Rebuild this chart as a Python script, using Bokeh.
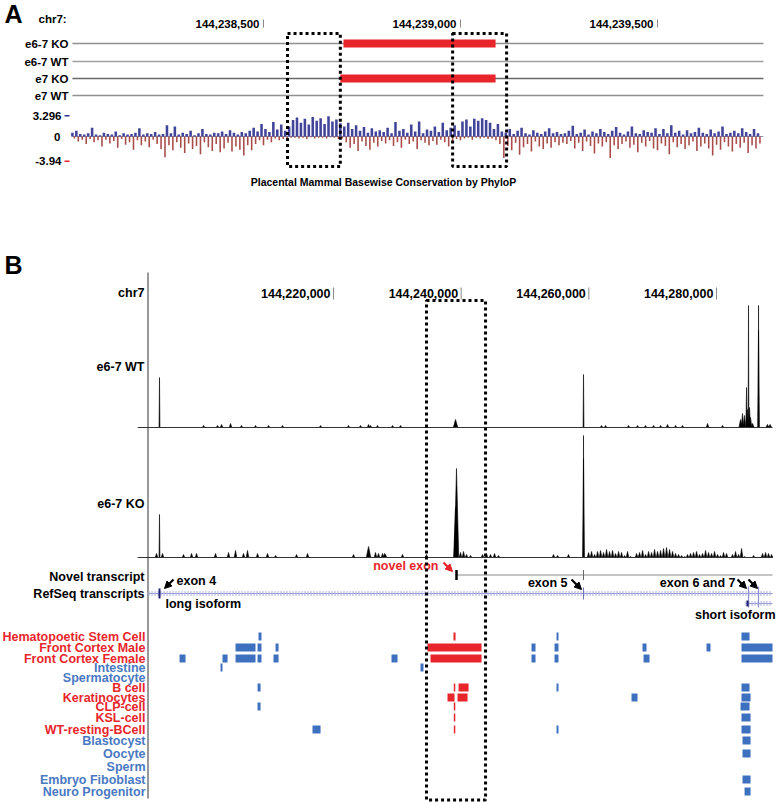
import numpy as np
from bokeh.plotting import figure
from bokeh.models import Range1d, Arrow, NormalHead
from bokeh.core.properties import value
from bokeh.embed import file_html
from bokeh.resources import INLINE

# ------------------------------------------------------------------ data
# Panel A (zoomed region, bp)
a_ticks = [144238500, 144239000, 144239500]
a_tick_labels = ["144,238,500", "144,239,000", "144,239,500"]
a_tracks = ["e6-7 KO", "e6-7 WT", "e7 KO", "e7 WT"]
a_del_tracks = ["e6-7 KO", "e7 KO"]
a_del_start = [144238703, 144238695]
a_del_end = [144239089, 144239089]
a_view = [144238015, 144239769]
a_box_start = [144238561, 144238980]
a_box_end = [144238695, 144239117]
phylo_max, phylo_min = 3.296, -3.94
cons_start = 144238015
cons_step = 10
cons_pos = [0.6, 0.9, 0.4, 0.3, 0.5, 1.4, 0.3, 0.2, 0.6, 0.4, 0.3, 0.8, 0.2, 0.5, 0.3, 0.4, 0.6, 1.3, 0.3, 0.5, 0.4, 0.7, 0.3,
            0.4, 1.8, 0.5, 1.6, 0.3, 0.6, 0.4, 0.9, 0.2, 0.5, 1.2, 0.4, 0.3, 0.6, 0.5, 0.8, 0.4, 1.0, 0.6, 0.3, 0.7, 0.5, 0.9,
            1.4, 0.8, 2.0, 1.2, 0.7, 2.3, 1.1, 1.9, 0.9, 1.6,
            2.6, 3.0, 2.2, 2.8, 1.9, 3.1, 2.5, 2.9, 2.0, 3.2, 2.4, 2.7, 2.1,
            1.6, 2.2, 1.2, 1.8, 0.9, 1.5, 0.6, 1.3, 0.8, 1.0,
            0.7, 1.4, 0.5, 2.3, 0.9, 1.2, 0.6, 1.9, 0.8, 2.4, 0.5, 1.1, 0.9, 1.6, 0.7, 2.2, 1.0, 1.4,
            1.8, 0.9, 2.4, 2.7, 1.6, 2.8, 2.5, 2.9, 2.6, 2.2, 1.2, 2.0, 0.8,
            0.6, 1.2, 0.4, 0.9, 1.4, 0.5, 0.3, 1.0, 0.6, 0.4, 0.8, 1.3, 0.5, 0.7, 0.4,
            0.5, 0.9, 1.7, 0.4, 0.6, 1.1, 0.3, 0.8, 0.5, 1.2, 0.7, 0.4, 0.9, 1.5, 0.6, 0.3, 0.8, 1.6, 0.5, 0.4,
            1.0, 0.7, 0.6, 1.3, 0.4, 1.2, 0.5, 1.8, 0.6, 0.9, 0.3, 1.0, 0.5, 0.7, 1.4, 0.6, 0.4, 1.1, 0.5, 0.8,
            1.6, 0.4, 0.6, 0.9, 0.5, 1.3, 0.7, 0.4, 1.2, 0.5]
cons_neg = [0.3, 0.8, 0.5, 1.2, 0.4, 0.9, 0.6, 1.6, 0.5, 1.1, 0.7, 1.8, 0.4, 1.3, 0.9, 2.1, 0.6, 1.4, 0.8, 1.7, 0.5, 1.2, 2.0,
            3.3, 1.4, 2.2, 0.9, 1.8, 2.6, 1.1, 2.0, 1.5, 2.8, 0.9, 1.7, 2.3, 1.2, 2.5, 1.9, 1.0, 2.4, 1.6, 2.1, 3.0, 1.4, 2.2,
            1.2, 0.6, 1.4, 0.5, 0.9, 0.3, 0.6, 0.4, 0.3, 0.2,
            0.2, 0.3, 0.2, 0.4, 0.1, 0.3, 0.2, 0.2, 0.3, 0.1, 0.2, 0.4, 0.3,
            0.9, 1.8, 1.2, 2.3, 0.8, 1.5, 2.1, 1.0, 1.6, 0.7,
            1.1, 0.6, 1.5, 0.9, 1.8, 0.5, 1.2, 0.8, 2.0, 0.6, 1.0, 1.4, 0.7, 1.3, 0.5, 0.9, 1.6, 0.8,
            0.4, 0.6, 0.3, 0.2, 0.5, 0.2, 0.3, 0.2, 0.4, 0.3, 0.6, 1.2, 3.4,
            1.5, 2.2, 1.0, 2.9, 1.7, 1.2, 2.4, 0.8, 1.6, 2.0, 1.1, 1.8, 0.9, 1.4, 1.0,
            1.2, 0.7, 1.9, 1.0, 2.3, 0.8, 1.5, 2.7, 1.1, 1.6, 0.9, 3.4, 1.4, 2.0, 1.2, 0.8, 1.8, 1.3, 2.5, 1.0,
            1.6, 0.7, 1.9, 2.2, 1.1, 1.5, 2.8, 0.9, 1.7, 1.2, 2.0, 1.4, 0.8, 2.3, 1.6, 1.1, 1.9, 3.0, 1.3, 2.1,
            0.9, 1.6, 2.4, 1.2, 1.8, 1.0, 2.6, 1.4, 1.9, 1.1]

# Panel B (wide region, kb)
b_ticks = [144220000, 144240000, 144260000, 144280000]
b_tick_labels = ["144,220,000", "144,240,000", "144,260,000", "144,280,000"]
b_view = [144191.02, 144288.78]
b_box = [144234.57, 144243.82]

wt_kb = [144192.74, 144199.64, 144201.83, 144202.46, 144203.87, 144205.59, 144207.78, 144209.82, 144212.01,
         144217.97, 144222.35, 144224.23, 144225.49, 144225.80, 144226.90, 144229.25, 144230.50,
         144239.12, 144259.17,
         144261.99, 144262.62, 144266.22, 144267.63, 144268.88, 144270.14, 144271.24, 144272.33, 144273.59,
         144274.68, 144278.60, 144280.95,
         144283.77, 144284.08, 144284.40, 144284.71, 144284.87, 144285.02, 144285.18, 144285.34, 144285.65,
         144286.59, 144286.59, 144287.99, 144288.40]
wt_h = [50, 2, 2, 3, 4, 2, 2, 2, 2, 2, 2, 2, 3, 2, 2, 2, 2,
        8, 53,
        2, 2, 2, 2, 2, 2, 2, 3, 2, 2, 4, 2,
        8, 14, 12, 40, 18, 122, 20, 10, 4,
        122, 97, 3, 3]
wt_w = [0.07] + [0.2] * 16 + [0.35, 0.07] + [0.2] * 12 + \
       [0.25, 0.2, 0.2, 0.1, 0.15, 0.06, 0.15, 0.2, 0.25] + [0.05, 0.13] + [0.25, 0.25]

ko_kb = [144192.27, 144192.74, 144193.21,
         144196.50, 144197.76, 144198.54, 144201.52, 144203.55, 144204.65, 144205.90, 144206.53, 144208.10,
         144209.66, 144210.92, 144214.21, 144215.93,
         144223.14, 144225.49, 144226.58, 144227.05, 144227.68, 144227.99, 144228.15, 144230.81, 144234.57,
         144239.12, 144239.27, 144239.90, 144240.37, 144240.84, 144241.47,
         144243.35, 144243.97, 144244.60, 144245.23, 144245.85,
         144254.47, 144255.10, 144256.82,
         144259.17, 144259.17]
ko_h = [4, 43, 4,
        3, 4, 4, 4, 5, 7, 4, 7, 4, 4, 2, 3, 4,
        3, 11, 5, 4, 4, 4, 3, 3, 3,
        50, 89, 5, 6, 3, 2,
        3, 4, 3, 4, 2,
        3, 2, 3,
        122, 99]
ko_w = [0.2, 0.07, 0.2] + [0.2] * 13 + [0.2, 0.35, 0.2, 0.2, 0.2, 0.2, 0.2, 0.2, 0.2] + \
       [0.3, 0.35, 0.2, 0.2, 0.2, 0.2] + [0.2] * 5 + [0.2] * 3 + [0.05, 0.14]
ko_dense_start = 144259.96
ko_dense_step = 0.47
ko_dense = [5, 6, 3, 6, 7, 5, 8, 6, 7, 4, 6, 5, 2, 6, 1, 0, 4, 5, 7, 3,
            6, 5, 8, 6, 7, 9, 10, 8, 6, 4, 3, 2, 1, 3, 4, 5, 6, 3, 4, 7,
            5, 4, 6, 3, 2, 5, 4, 0, 3, 6, 3, 9, 1, 0, 0, 2, 0, 0, 4, 5, 4, 3]

novel_tx = [144239.20, 144288.78]
novel_exons = [144239.27, 144259.17]
refseq_long = [144191.02, 144288.78]
refseq_long_exons = [144192.74, 144259.17, 144285.02, 144286.59]
refseq_short = [144284.55, 144288.78]
refseq_short_exon = [144284.71, 144285.02]

cell_lines = ["Hematopoetic Stem Cell", "Front Cortex Male", "Front Cortex Female", "Intestine", "Spermatocyte",
              "B cell", "Keratinocytes", "CLP-cell", "KSL-cell", "WT-resting-BCell", "Blastocyst", "Oocyte",
              "Sperm", "Embryo Fiboblast", "Neuro Progenitor"]
cell_hilite = [True, True, True, False, False, True, True, True, True, True, False, False, False, False, False]
cell_bars = {
    0: [(144208.25, 144208.72), (144238.80, 144239.12), (144254.94, 144255.25), (144283.92, 144285.18)],
    1: [(144204.65, 144207.78), (144208.10, 144208.72), (144210.92, 144211.39), (144234.73, 144243.19),
        (144251.02, 144251.65), (144254.63, 144255.25), (144268.41, 144269.04), (144278.44, 144279.07),
        (144283.92, 144288.78)],
    2: [(144195.88, 144196.82), (144202.61, 144203.40), (144204.65, 144207.78), (144208.10, 144208.72),
        (144210.60, 144211.39), (144229.09, 144230.03), (144235.20, 144243.19), (144251.02, 144251.65),
        (144254.63, 144255.25), (144268.57, 144269.51), (144283.92, 144288.78)],
    3: [(144202.30, 144202.61), (144233.63, 144234.10)],
    5: [(144208.10, 144208.57), (144238.85, 144239.08), (144239.59, 144241.16), (144254.94, 144255.25),
        (144283.92, 144285.18)],
    6: [(144237.86, 144238.96), (144239.43, 144241.00), (144266.69, 144267.63), (144283.92, 144285.34)],
    7: [(144208.10, 144208.57), (144238.85, 144239.08), (144283.77, 144285.18)],
    8: [(144238.85, 144239.08), (144283.92, 144285.34)],
    9: [(144216.71, 144217.97), (144238.85, 144239.08), (144254.94, 144255.25), (144283.92, 144285.34)],
    10: [(144284.08, 144285.34)],
    11: [(144284.08, 144285.34)],
    13: [(144284.08, 144285.34)],
    14: [(144284.40, 144285.34)],
}

# ------------------------------------------------------------------ layout helpers
W, H = 776, 802
FONT = value("Liberation Sans")
RED = "#e8252b"
BLUE = "#3d70bf"
LBLUE = "#4a78c2"


def Y(v):
    return np.asarray(v, dtype=float)


def X(v):
    return np.asarray(v, dtype=float)


PXA = 0.394          # px per bp, panel A
PXB = 1 / 156.67     # px per bp, panel B
A0 = a_ticks[0] - 263 / PXA
A1 = A0 + W / PXA
B0 = b_ticks[0] - 333 / PXB
B1 = B0 + W / PXB

p = figure(width=W, height=H, x_range=Range1d(B0, B1), y_range=Range1d(H, 0),
           output_backend="svg", toolbar_location=None, x_axis_type=None, y_axis_type=None,
           min_border=0, outline_line_color=None, background_fill_color="white")
p.extra_x_ranges = {"A": Range1d(A0, A1), "px": Range1d(0, W)}
PA = dict(x_range_name="A")
PX = dict(x_range_name="px")


def txt(x, y, t, size="12.5px", align="right", color="black", rng=PX, xoff=0):
    p.text(x=list(np.atleast_1d(x)), y=list(np.atleast_1d(y)), text=list(np.atleast_1d(t)),
           text_font=FONT, text_font_style="bold", text_font_size=size, text_align=align,
           text_baseline="middle", text_color=color, x_offset=xoff, **rng)


# ================================================================== Panel A
txt(X(4), Y(13.5), "A", size="25px", align="left")
txt(X(38), Y(18), "chr7:", size="11.5px", align="left")
txt(a_ticks, [Y(23)] * 3, a_tick_labels, size="11.5px", rng=PA, xoff=-4)
p.segment(x0=a_ticks, x1=a_ticks, y0=[Y(19)] * 3, y1=[Y(27)] * 3, line_color="#888888", line_width=1, **PA)

rowA = {"e6-7 KO": 43, "e6-7 WT": 61, "e7 KO": 78, "e7 WT": 95}
lcols = ["#909090", "#a0a0a0", "#6a6a6a", "#909090"]
for name, col in zip(a_tracks, lcols):
    p.segment(x0=[a_view[0]], x1=[a_view[1]], y0=[Y(rowA[name])], y1=[Y(rowA[name])],
              line_color=col, line_width=1.3, **PA)
txt([X(68)] * 4, [Y(rowA[n]) for n in a_tracks], a_tracks, size="11.5px")
p.quad(left=a_del_start, right=a_del_end,
       top=[Y(rowA[t]) - 4 for t in a_del_tracks], bottom=[Y(rowA[t]) + 4 for t in a_del_tracks],
       fill_color=RED, line_color=None, **PA)

zero = float(Y(136))
sc = 6.3
pos_x = cons_start + cons_step * np.arange(len(cons_pos))
neg_x = cons_start + cons_step * np.arange(len(cons_neg)) + cons_step / 2
p.segment(x0=[a_view[0]], x1=[a_view[1]], y0=[zero], y1=[zero], line_color="#9a9aa8", line_width=1, **PA)
p.vbar(x=pos_x, width=6.5, top=zero - sc * np.array(cons_pos), bottom=zero,
       fill_color="#2e308f", line_color=None, fill_alpha=0.9, **PA)
p.vbar(x=neg_x, width=4, top=zero, bottom=zero + sc * np.array(cons_neg),
       fill_color="#9a2b2b", line_color=None, fill_alpha=0.85, **PA)
ytop = zero - sc * phylo_max
ybot = zero - sc * phylo_min
txt([X(61), X(60), X(61)], [ytop, zero, ybot], [f"{phylo_max:g}", "0", f"{phylo_min:g}"], size="11.5px")
p.segment(x0=[X(64), X(64)], x1=[X(69), X(69)], y0=[ytop, ybot], y1=[ytop, ybot],
          line_color=["#2e308f", RED], line_width=1.5, **PX)
txt(X(383), Y(181), "Placental Mammal Basewise Conservation by PhyloP", size="10.5px", align="center")

p.quad(left=a_box_start, right=a_box_end, top=[Y(33)] * 2, bottom=[Y(166)] * 2,
       fill_color=None, line_color="black", line_width=3, line_dash="3 3", **PA)

# ================================================================== Panel B
txt(X(4), Y(264), "B", size="25px", align="left")
p.segment(x0=[X(147.5)], x1=[X(147.5)], y0=[Y(272)], y1=[Y(798)], line_color="#555555", line_width=1.2, **PX)
txt(X(144), Y(292), "chr7")
txt(b_ticks, [Y(293)] * 4, b_tick_labels, rng={}, xoff=-3)
p.segment(x0=b_ticks, x1=b_ticks, y0=[Y(287)] * 4, y1=[Y(299)] * 4, line_color="#888888", line_width=1)

base_wt = float(Y(427))
base_ko = float(Y(557))


def peaks(kb, h, w, base):
    xs = [[(k - ww) * 1000, k * 1000, (k + ww) * 1000] for k, ww in zip(kb, w)]
    ys = [[base, base - hh, base] for hh in h]
    p.patches(xs=xs, ys=ys, fill_color="black", line_color="black", line_width=0.6)


peaks(wt_kb, wt_h, wt_w, base_wt)
peaks(ko_kb, ko_h, ko_w, base_ko)
dense_kb = ko_dense_start + ko_dense_step * np.arange(len(ko_dense))
keep = np.array(ko_dense) > 0
peaks(dense_kb[keep], np.array(ko_dense)[keep], [0.2] * int(keep.sum()), base_ko)

for b in (base_wt, base_ko):
    p.segment(x0=[b_view[0] * 1000 - 1700], x1=[b_view[1] * 1000], y0=[b], y1=[b],
              line_color="#333333", line_width=1.2)
txt(X(144), Y(366), "e6-7 WT")
txt(X(144), Y(503), "e6-7 KO")

# transcripts
yN = float(Y(574.5))
yR = float(Y(593))
yS = float(Y(603))
txt(X(144), Y(576), "Novel transcript")
txt(X(144), Y(593), "RefSeq transcripts")
p.segment(x0=[novel_tx[0] * 1000], x1=[novel_tx[1] * 1000], y0=[yN], y1=[yN], line_color="#8a8a8a", line_width=1.2)
p.segment(x0=[novel_exons[0] * 1000], x1=[novel_exons[0] * 1000], y0=[yN - 5], y1=[yN + 5],
          line_color="black", line_width=2.5)
p.segment(x0=[novel_exons[1] * 1000], x1=[novel_exons[1] * 1000], y0=[yN - 5], y1=[yN + 5],
          line_color="#666666", line_width=1)

for (s, e), yy in ((refseq_long, yR), (refseq_short, yS)):
    p.segment(x0=[s * 1000], x1=[e * 1000], y0=[yy], y1=[yy], line_color="#9095d2", line_width=1)
    p.segment(x0=[s * 1000], x1=[e * 1000], y0=[yy], y1=[yy], line_color="#aeb1e0", line_width=5, line_dash="1 2")
p.segment(x0=[refseq_long_exons[0] * 1000], x1=[refseq_long_exons[0] * 1000], y0=[yR - 5], y1=[yR + 5],
          line_color="#1e2070", line_width=2)
p.segment(x0=[refseq_long_exons[1] * 1000], x1=[refseq_long_exons[1] * 1000], y0=[yR - 6], y1=[yR + 6],
          line_color="#6d72b8", line_width=1)
p.segment(x0=[e * 1000 for e in refseq_long_exons[2:]], x1=[e * 1000 for e in refseq_long_exons[2:]],
          y0=[yR - 7] * 2, y1=[yS + 4] * 2, line_color="#8f94d0", line_width=1.2)
p.quad(left=[refseq_short_exon[0] * 1000], right=[refseq_short_exon[1] * 1000], top=[yS - 3], bottom=[yS + 3],
       fill_color="#1e2070", line_color=None)

txt(X(438), Y(565), "novel exon", color=RED)
txt(X(176), Y(580), "exon 4", align="left")
txt(X(165), Y(603), "long isoform", align="left")
txt(X(567), Y(582), "exon 5")
txt(X(735), Y(582), "exon 6 and 7")
txt(X(775), Y(614), "short isoform")

arrows = [((173, 579), (164, 588), "black"), ((443, 562), (452, 571), RED), ((571, 579), (581, 589), "black"),
          ((737, 579), (746, 588), "black"), ((748, 579), (757, 588), "black")]
for (xs_, ys_), (xe, ye), col in arrows:
    p.add_layout(Arrow(end=NormalHead(size=7, fill_color=col, line_color=col), x_start=float(X(xs_)),
                       y_start=float(Y(ys_)), x_end=float(X(xe)), y_end=float(Y(ye)),
                       line_color=col, line_width=2.2, x_range_name="px"))

# cell lines
row_y = Y([636, 647, 658, 667, 677, 687, 697, 706, 717, 729, 740, 753, 766, 779, 791])
txt([X(145)] * len(cell_lines), row_y, cell_lines, size="12.5px",
    color=[RED if h else LBLUE for h in cell_hilite])
L, R, T, Bm, C = [], [], [], [], []
for r, bars in cell_bars.items():
    for s, e in bars:
        L.append(s * 1000)
        R.append(e * 1000)
        T.append(row_y[r] - 4)
        Bm.append(row_y[r] + 4)
        C.append(RED if (s < b_box[1] and e > b_box[0]) else BLUE)
p.quad(left=L, right=R, top=T, bottom=Bm, fill_color=C, line_color=None)

p.quad(left=[b_box[0] * 1000], right=[b_box[1] * 1000], top=[Y(300)], bottom=[Y(799.5)],
       fill_color=None, line_color="black", line_width=3, line_dash="3 3")

open("out.html", "w").write(file_html(p, INLINE))
